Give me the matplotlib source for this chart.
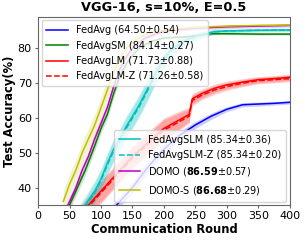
import matplotlib.pyplot as plt
import numpy as np

# rounds and mean test accuracy
r_avg = [100, 125, 150, 175, 200, 225, 250, 275, 300, 325, 350, 375, 400]
fedavg = [30, 35, 40, 46, 51, 55, 58, 60.5, 62.5, 63.8, 64.0, 64.2, 64.5]
fedavg_sd = [1.5, 1.5, 1.5, 1.5, 1.4, 1.2, 1.0, 0.9, 0.7, 0.6, 0.6, 0.5, 0.5]

r_sm = [40, 50, 60, 75, 90, 100, 110, 120, 130, 140, 150, 160, 180, 200, 240, 270, 300, 350, 400]
fedavgsm = [32, 35, 39, 45, 52, 57, 61, 67, 72, 75.5, 78, 80, 82, 83, 83.4, 84.2, 84.2, 84.1, 84.1]
fedavgsm_sd = [1.5, 1.5, 1.5, 1.5, 1.5, 1.4, 1.3, 1.2, 1.0, 0.9, 0.8, 0.7, 0.5, 0.4, 0.3, 0.3, 0.3, 0.3, 0.3]

r_lm = [60, 75, 100, 125, 150, 175, 200, 225, 240, 245, 260, 280, 300, 325, 350, 375, 400]
fedavglm = [30, 34, 39, 44, 49, 53, 57, 59.5, 61, 65.5, 67, 68.5, 69.5, 70.3, 71, 71.3, 71.7]
fedavglm_sd = [2.5, 2.5, 3, 3, 3, 3, 3, 2.5, 2, 1.5, 1.3, 1.2, 1.1, 1.0, 0.9, 0.9, 0.9]
fedavglmz = [30, 33.5, 38.5, 43.5, 48.5, 52.5, 56.5, 59, 60.5, 65, 66.5, 68, 69, 70, 70.7, 71, 71.3]

r_slm = [60, 75, 90, 100, 110, 120, 130, 140, 150, 160, 170, 180, 190, 200, 210, 230, 250, 280, 300, 350, 400]
fedavgslm = [31, 35, 39, 42.5, 47, 51, 54, 57.5, 60.5, 63.5, 67, 70.5, 74, 77, 79.5, 82, 83.5, 84.8, 85, 85.2, 85.3]
fedavgslm_sd = [2.5, 2.5, 3, 3, 3, 3, 3, 3, 3, 3, 3, 2.8, 2.5, 2.2, 2, 1.5, 1.0, 0.7, 0.5, 0.4, 0.4]
fedavgslmz = [30.5, 34.5, 38.5, 42, 46.5, 50.5, 53.5, 57, 60, 63, 66.5, 70, 73.5, 76.5, 79, 81.8, 83.3, 84.7, 85, 85.2, 85.3]

r_domo = [40, 50, 60, 70, 80, 90, 100, 110, 120, 130, 140, 150, 170, 200, 250, 300, 350, 400]
domo = [32, 36, 40, 45, 49, 54, 58.5, 63, 69, 74, 77.5, 80, 83, 85, 85.8, 86.2, 86.4, 86.6]
domo_sd = [1.5, 1.5, 1.5, 1.5, 1.5, 1.5, 1.5, 1.4, 1.3, 1.1, 1.0, 0.9, 0.7, 0.6, 0.5, 0.5, 0.5, 0.5]
domos = [36, 41, 45, 50, 54, 58, 63, 68, 73, 77, 80, 81.8, 84, 85.3, 86, 86.4, 86.6, 86.7]
domos_sd = [3, 3, 3, 3, 3, 3, 3, 3, 2.5, 2, 1.6, 1.3, 1.0, 0.7, 0.5, 0.4, 0.3, 0.3]

fig = plt.figure(figsize=(3.05, 2.4), dpi=100)
ax = fig.add_axes([0.125, 0.146, 0.825, 0.783])

def curve(x, y, sd, c, ls, lab):
    y = np.array(y); sd = np.array(sd)
    ax.fill_between(x, y - sd, y + sd, color=c, alpha=0.2, lw=0)
    return ax.plot(x, y, color=c, ls=ls, lw=1.1, label=lab)[0]

h1 = [
    curve(r_avg, fedavg, fedavg_sd, 'b', '-', 'FedAvg (64.50±0.54)'),
    curve(r_sm, fedavgsm, fedavgsm_sd, 'g', '-', 'FedAvgSM (84.14±0.27)'),
    curve(r_lm, fedavglm, fedavglm_sd, 'r', '-', 'FedAvgLM (71.73±0.88)'),
    curve(r_lm, fedavglmz, fedavglm_sd, 'r', '--', 'FedAvgLM-Z (71.26±0.58)'),
]
h2 = [
    curve(r_slm, fedavgslm, fedavgslm_sd, 'c', '-', 'FedAvgSLM (85.34±0.36)'),
    curve(r_slm, fedavgslmz, fedavgslm_sd, 'c', '--', 'FedAvgSLM-Z (85.34±0.20)'),
    curve(r_domo, domo, domo_sd, 'm', '-', r'DOMO ($\bf{86.59}$±0.57)'),
    curve(r_domo, domos, domos_sd, 'y', '-', r'DOMO-S ($\bf{86.68}$±0.29)'),
]

ax.set_xlim(0, 400)
ax.set_ylim(35, 89)
ax.set_xticks(range(0, 401, 50))
ax.set_yticks([40, 50, 60, 70, 80])
ax.tick_params(labelsize=8, length=2.5, pad=2, color='0.4')
for s in ax.spines.values():
    s.set_color('0.4')
ax.set_xlabel('Communication Round', fontsize=8.3, fontweight='bold', labelpad=1)
ax.set_ylabel('Test Accuracy(%)', fontsize=8.3, fontweight='bold', labelpad=1)
ax.set_title('VGG-16, s=10%, E=0.5', fontsize=9.3, fontweight='bold', pad=4)

kw = dict(fontsize=7, borderaxespad=0.35, handlelength=2.2, labelspacing=0.55,
          borderpad=0.5, handletextpad=0.8)
leg1 = ax.legend(handles=h1, loc='upper left', **kw)
ax.add_artist(leg1)
ax.legend(handles=h2, loc='lower right', **kw)

fig.savefig('out.png', dpi=100)
